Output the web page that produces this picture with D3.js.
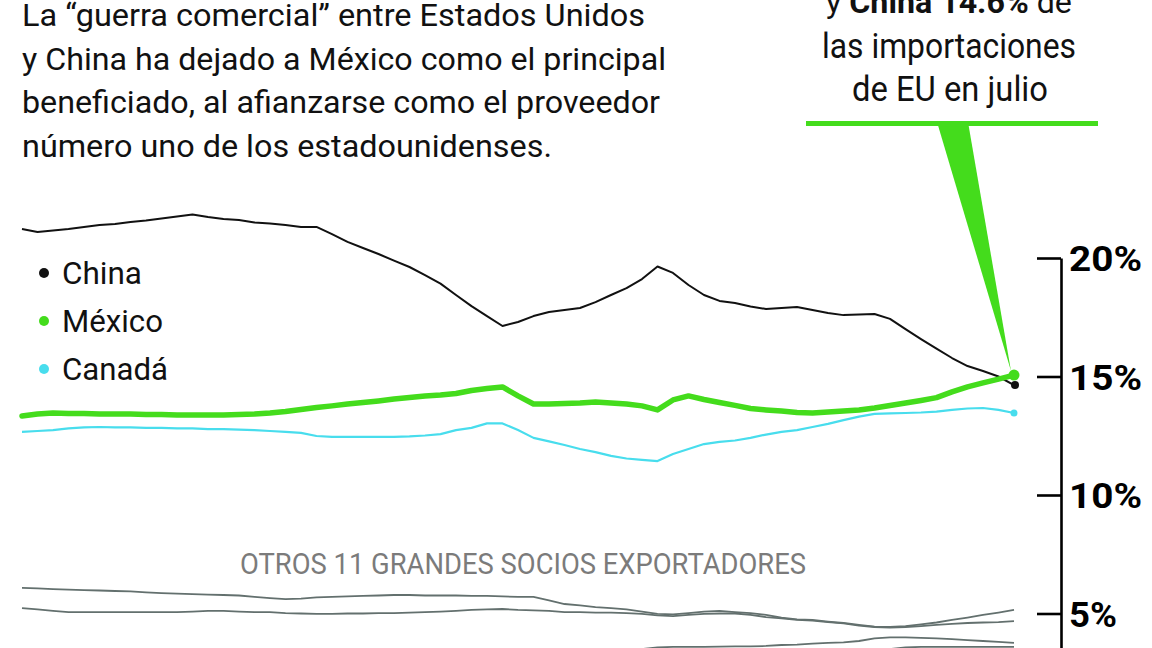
<!DOCTYPE html>
<html><head><meta charset="utf-8">
<script src="https://cdn.jsdelivr.net/npm/d3@7"></script>
<style>html,body{margin:0;padding:0;background:#fff;overflow:hidden}</style>
</head><body>
<svg id="chart" width="1152" height="648"></svg>
<script>
// ---- data (share of US imports, %) ----
const periods = d3.range(0, 65);
const china = [21.22,21.10,21.16,21.22,21.31,21.39,21.43,21.52,21.58,21.67,21.75,21.84,21.73,21.65,21.60,21.50,21.46,21.39,21.31,21.31,21.01,20.68,20.42,20.17,19.89,19.62,19.28,18.92,18.44,17.97,17.55,17.13,17.30,17.55,17.72,17.81,17.89,18.14,18.44,18.73,19.11,19.64,19.37,18.86,18.44,18.19,18.10,17.95,17.85,17.89,17.93,17.81,17.68,17.59,17.62,17.64,17.43,17.00,16.58,16.18,15.78,15.44,15.23,15.00,14.64];
const mexico = [13.33,13.42,13.46,13.44,13.44,13.42,13.42,13.42,13.40,13.40,13.38,13.38,13.38,13.38,13.40,13.42,13.46,13.52,13.61,13.69,13.76,13.84,13.90,13.97,14.05,14.11,14.18,14.22,14.28,14.41,14.49,14.56,14.18,13.84,13.84,13.86,13.88,13.92,13.88,13.84,13.76,13.59,14.01,14.18,14.03,13.90,13.78,13.65,13.59,13.54,13.48,13.46,13.50,13.54,13.59,13.67,13.78,13.88,13.99,14.11,14.35,14.56,14.73,14.89,15.06];
const canada = [12.66,12.70,12.74,12.81,12.85,12.87,12.85,12.85,12.83,12.83,12.81,12.81,12.78,12.78,12.76,12.74,12.70,12.66,12.62,12.49,12.45,12.45,12.45,12.45,12.45,12.47,12.51,12.57,12.74,12.83,13.02,13.02,12.74,12.41,12.26,12.11,11.94,11.81,11.65,11.54,11.48,11.43,11.73,11.94,12.15,12.24,12.30,12.41,12.55,12.66,12.74,12.87,13.00,13.16,13.31,13.42,13.44,13.46,13.48,13.52,13.59,13.65,13.67,13.59,13.46];
const otrosA = [6.08,6.06,6.03,6.01,5.99,5.97,5.95,5.93,5.89,5.86,5.84,5.82,5.80,5.78,5.76,5.70,5.65,5.61,5.63,5.68,5.70,5.72,5.74,5.76,5.78,5.78,5.76,5.76,5.76,5.74,5.74,5.72,5.70,5.70,5.55,5.40,5.34,5.27,5.23,5.17,5.08,4.98,4.96,5.02,5.08,5.11,5.06,5.02,4.94,4.83,4.75,4.73,4.66,4.60,4.52,4.45,4.43,4.47,4.54,4.62,4.73,4.83,4.94,5.04,5.15];
const otrosB = [5.23,5.17,5.11,5.06,5.06,5.06,5.06,5.06,5.06,5.06,5.06,5.08,5.11,5.11,5.08,5.06,5.06,5.02,5.00,4.98,4.98,5.00,5.00,5.02,5.02,5.04,5.06,5.08,5.11,5.15,5.17,5.19,5.15,5.13,5.11,5.06,5.06,5.04,5.04,5.02,4.98,4.92,4.89,4.94,4.98,5.00,5.00,4.94,4.85,4.79,4.73,4.70,4.64,4.58,4.49,4.43,4.41,4.43,4.47,4.52,4.56,4.60,4.62,4.64,4.68];
const otrosC = [3.36,3.36,3.36,3.36,3.36,3.36,3.36,3.36,3.36,3.36,3.36,3.36,3.36,3.36,3.36,3.36,3.36,3.36,3.36,3.36,3.36,3.36,3.36,3.36,3.36,3.36,3.36,3.36,3.36,3.36,3.36,3.36,3.36,3.36,3.36,3.38,3.40,3.42,3.45,3.48,3.50,3.57,3.59,3.59,3.59,3.60,3.61,3.61,3.63,3.67,3.69,3.73,3.76,3.78,3.84,3.95,3.99,3.99,3.97,3.95,3.92,3.88,3.84,3.80,3.76];
const otrosD = [3.30,3.30,3.30,3.30,3.30,3.30,3.30,3.30,3.30,3.30,3.30,3.30,3.30,3.30,3.30,3.30,3.30,3.30,3.30,3.30,3.30,3.30,3.30,3.30,3.30,3.30,3.30,3.30,3.30,3.30,3.30,3.30,3.30,3.30,3.30,3.30,3.30,3.30,3.30,3.30,3.30,3.30,3.30,3.30,3.30,3.30,3.30,3.30,3.30,3.30,3.30,3.30,3.30,3.30,3.30,3.30,3.50,3.57,3.59,3.59,3.59,3.59,3.59,3.59,3.59];
const tickValues = [20, 15, 10, 5];
const legendNames = ["China", "México", "Canadá"];
const introLines = ["La “guerra comercial” entre Estados Unidos", "y China ha dejado a México como el principal", "beneficiado, al afianzarse como el proveedor", "número uno de los estadounidenses."];
const otrosLabel = "OTROS 11 GRANDES SOCIOS EXPORTADORES";

// ---- drawing ----
const svg = d3.select('#chart');
const FONT = 'Roboto, "DejaVu Sans", sans-serif';
const green = '#44dc1c', cyan = '#48dded', black = '#111111', gray = '#63706e';

const x = d3.scaleLinear().domain([0, 64]).range([22, 1014]);
const y = d3.scaleLinear().domain([5, 20]).range([613.5, 258]);
const line = d3.line().x((d, i) => x(periods[i])).y(d => y(d));

function fit(sel, w) { sel.attr('textLength', w).attr('lengthAdjust', 'spacingAndGlyphs'); }

// intro text
const introBase = [26, 70, 113, 157];
const introW = [623, 644, 638, 530];
introLines.forEach((t, i) => {
  const tx = svg.append('text').attr('x', 22).attr('y', introBase[i])
    .attr('font-family', FONT).attr('font-size', 31).attr('fill', '#111').text(t);
  fit(tx, introW[i]);
});

// annotation
const ann = svg.append('g').attr('font-family', FONT).attr('font-size', 35).attr('fill', '#111').attr('text-anchor', 'middle');
const a0 = ann.append('text').attr('x', 949).attr('y', 13);
a0.append('tspan').text('y ');
a0.append('tspan').attr('font-weight', 'bold').text('China 14.6%');
a0.append('tspan').text(' de');
const a0len = a0.node().getComputedTextLength();
a0.attr('font-size', 35 * 246 / a0len);
fit(ann.append('text').attr('x', 949).attr('y', 58).text('las importaciones'), 254);
fit(ann.append('text').attr('x', 950).attr('y', 101).text('de EU en julio'), 196);

// others
svg.append('g').selectAll('path').data([otrosD, otrosC, otrosB, otrosA]).join('path')
  .attr('d', line).attr('fill', 'none').attr('stroke', gray).attr('stroke-width', 1.8)
  .attr('stroke-linejoin', 'round');

fit(svg.append('text').attr('x', 240).attr('y', 574).attr('font-family', FONT).attr('font-size', 29)
  .attr('fill', '#7b7b7b').text(otrosLabel), 566);

// main series
svg.append('path').attr('d', line(canada)).attr('fill', 'none').attr('stroke', cyan).attr('stroke-width', 2.2).attr('stroke-linejoin', 'round');
svg.append('path').attr('d', line(china)).attr('fill', 'none').attr('stroke', black).attr('stroke-width', 2).attr('stroke-linejoin', 'round');
svg.append('path').attr('d', line(mexico)).attr('fill', 'none').attr('stroke', green).attr('stroke-width', 5.5).attr('stroke-linejoin', 'round').attr('stroke-linecap', 'round');

const last = periods.length - 1;
svg.append('circle').attr('cx', x(periods[last])).attr('cy', y(canada[last])).attr('r', 3.5).attr('fill', cyan);
svg.append('circle').attr('cx', x(periods[last]) + 1).attr('cy', y(china[last])).attr('r', 4).attr('fill', black);
svg.append('circle').attr('cx', x(periods[last])).attr('cy', y(mexico[last])).attr('r', 5.5).attr('fill', green);

// pointer
svg.append('rect').attr('x', 806).attr('y', 121).attr('width', 292).attr('height', 5).attr('fill', green);
const tipX = x(periods[last]) - 3, tipY = y(mexico[last]) - 4;
svg.append('path').attr('d', `M937,122L968,122L${tipX},${tipY}Z`).attr('fill', green);

// legend
const legColors = [black, green, cyan];
const legW = [80, 101, 106];
legendNames.forEach((n, i) => {
  const cy = 273 + i * 48;
  svg.append('circle').attr('cx', 44).attr('cy', cy).attr('r', 5).attr('fill', legColors[i]);
  fit(svg.append('text').attr('x', 62).attr('y', cy + 11).attr('font-family', FONT).attr('font-size', 32)
    .attr('fill', '#111').text(n), legW[i]);
});

// axis
const yAxisScale = y.copy().domain([20, y.invert(650)]).range([258, 650]);
const axis = d3.axisRight(yAxisScale).tickValues(tickValues).tickSizeInner(-24).tickSizeOuter(0)
  .tickPadding(8).tickFormat(d => d + '%');
const ag = svg.append('g').attr('transform', 'translate(1061,0)').call(axis);
ag.select('.domain').attr('stroke', '#000').attr('stroke-width', 2.6);
ag.selectAll('.tick line').attr('stroke', '#000').attr('stroke-width', 2.6);
ag.selectAll('.tick text').attr('font-family', FONT).attr('font-weight', 'bold').attr('font-size', 35)
  .attr('fill', '#000').attr('dy', '0.36em')
  .each(function (d) { d3.select(this).attr('textLength', d >= 10 ? 73 : 48).attr('lengthAdjust', 'spacingAndGlyphs'); });
</script>
</body></html>
